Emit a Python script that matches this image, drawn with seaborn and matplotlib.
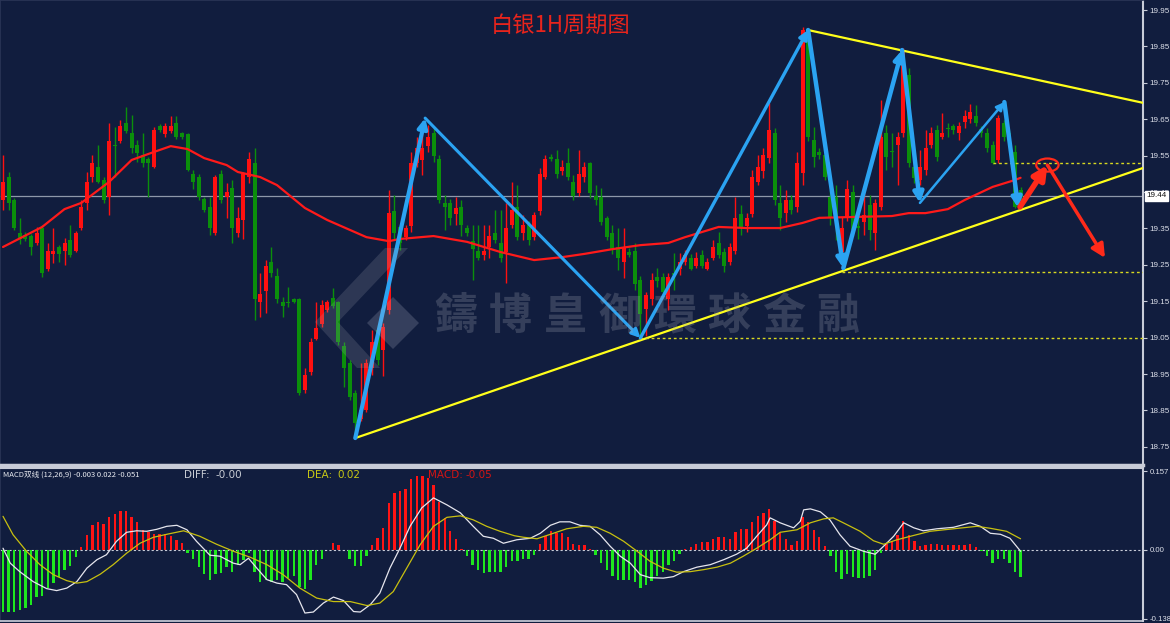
import matplotlib
matplotlib.use("Agg")
import matplotlib.pyplot as plt
import matplotlib.transforms as mtransforms
from matplotlib.patches import Ellipse, Polygon
import seaborn as sns
import pandas as pd
import numpy as np

# ---- silver 1H candles ----
opens = [19.428, 19.491, 19.428, 19.337, 19.332, 19.329, 19.310, 19.351, 19.239, 19.280,
         19.299, 19.288, 19.318, 19.288, 19.351, 19.420, 19.491, 19.519, 19.483, 19.436,
         19.579, 19.590, 19.640, 19.612, 19.579, 19.552, 19.541, 19.519, 19.631, 19.609,
         19.618, 19.640, 19.612, 19.609, 19.500, 19.491, 19.431, 19.409, 19.337, 19.500,
         19.436, 19.461, 19.337, 19.373, 19.491, 19.530, 19.148, 19.178, 19.258, 19.219,
         19.148, 19.148, 19.156, 19.156, 18.906, 18.955, 19.046, 19.088, 19.126, 19.159,
         19.148, 19.027, 18.980, 18.898, 18.826, 18.851, 18.966, 19.071, 19.016, 19.126,
         19.398, 19.354, 19.326, 19.357, 19.530, 19.538, 19.577, 19.612, 19.541, 19.420,
         19.420, 19.390, 19.409, 19.351, 19.315, 19.288, 19.277, 19.299, 19.337, 19.310,
         19.285, 19.359, 19.409, 19.337, 19.359, 19.326, 19.398, 19.491, 19.546, 19.541,
         19.508, 19.530, 19.478, 19.447, 19.491, 19.530, 19.439, 19.436, 19.379, 19.337,
         19.299, 19.258, 19.285, 19.288, 19.208, 19.129, 19.156, 19.217, 19.217, 19.156,
         19.228, 19.239, 19.258, 19.269, 19.247, 19.277, 19.239, 19.269, 19.310, 19.285,
         19.258, 19.288, 19.390, 19.357, 19.390, 19.478, 19.508, 19.544, 19.612, 19.420,
         19.392, 19.428, 19.409, 19.502, 19.890, 19.593, 19.560, 19.552, 19.436, 19.436,
         19.285, 19.381, 19.450, 19.357, 19.368, 19.414, 19.337, 19.409, 19.612, 19.562,
         19.579, 19.612, 19.771, 19.519, 19.483, 19.510, 19.579, 19.620, 19.601, 19.626,
         19.631, 19.612, 19.642, 19.651, 19.659, 19.623, 19.612, 19.579, 19.538, 19.640,
         19.612, 19.560, 19.455]
highs = [19.552, 19.505, 19.433, 19.379, 19.340, 19.335, 19.354, 19.360, 19.310, 19.351,
         19.305, 19.324, 19.359, 19.343, 19.428, 19.505, 19.552, 19.579, 19.490, 19.640,
         19.629, 19.648, 19.683, 19.662, 19.593, 19.612, 19.546, 19.629, 19.637, 19.640,
         19.659, 19.659, 19.615, 19.612, 19.510, 19.500, 19.436, 19.436, 19.496, 19.510,
         19.475, 19.483, 19.409, 19.505, 19.560, 19.571, 19.228, 19.263, 19.299, 19.241,
         19.162, 19.189, 19.159, 19.159, 18.966, 19.049, 19.148, 19.154, 19.154, 19.186,
         19.151, 19.038, 18.988, 18.906, 18.980, 18.990, 19.071, 19.085, 19.090, 19.455,
         19.441, 19.360, 19.360, 19.560, 19.600, 19.612, 19.634, 19.626, 19.552, 19.442,
         19.430, 19.436, 19.428, 19.359, 19.359, 19.359, 19.359, 19.359, 19.400, 19.400,
         19.420, 19.478, 19.470, 19.387, 19.370, 19.395, 19.516, 19.552, 19.555, 19.565,
         19.538, 19.571, 19.497, 19.565, 19.533, 19.533, 19.470, 19.461, 19.385, 19.359,
         19.351, 19.351, 19.296, 19.310, 19.220, 19.175, 19.228, 19.241, 19.228, 19.228,
         19.283, 19.283, 19.290, 19.280, 19.285, 19.290, 19.270, 19.318, 19.340, 19.295,
         19.310, 19.436, 19.415, 19.392, 19.510, 19.552, 19.571, 19.695, 19.626, 19.470,
         19.455, 19.441, 19.560, 19.903, 19.895, 19.629, 19.570, 19.571, 19.455, 19.470,
         19.380, 19.483, 19.470, 19.380, 19.447, 19.442, 19.430, 19.703, 19.634, 19.612,
         19.615, 19.845, 19.790, 19.538, 19.565, 19.620, 19.629, 19.634, 19.667, 19.640,
         19.637, 19.642, 19.675, 19.692, 19.689, 19.630, 19.626, 19.590, 19.662, 19.648,
         19.620, 19.580, 19.464]
lows = [19.400, 19.400, 19.346, 19.307, 19.315, 19.277, 19.305, 19.217, 19.233, 19.255,
        19.258, 19.250, 19.272, 19.285, 19.346, 19.400, 19.478, 19.475, 19.420, 19.387,
        19.491, 19.585, 19.612, 19.557, 19.533, 19.519, 19.436, 19.516, 19.615, 19.601,
        19.612, 19.596, 19.596, 19.508, 19.458, 19.428, 19.395, 19.332, 19.332, 19.420,
        19.379, 19.310, 19.326, 19.321, 19.475, 19.098, 19.107, 19.118, 19.217, 19.145,
        19.107, 19.134, 19.145, 18.893, 18.898, 18.947, 19.044, 19.079, 19.120, 19.131,
        19.030, 18.914, 18.879, 18.774, 18.820, 18.845, 18.947, 18.975, 18.944, 19.115,
        19.320, 19.290, 19.318, 19.340, 19.520, 19.497, 19.560, 19.533, 19.420, 19.346,
        19.359, 19.359, 19.329, 19.330, 19.208, 19.263, 19.263, 19.269, 19.310, 19.258,
        19.200, 19.351, 19.318, 19.318, 19.305, 19.318, 19.387, 19.485, 19.535, 19.489,
        19.497, 19.483, 19.428, 19.439, 19.478, 19.433, 19.414, 19.359, 19.318, 19.280,
        19.236, 19.214, 19.272, 19.181, 19.046, 19.055, 19.140, 19.190, 19.165, 19.126,
        19.181, 19.222, 19.250, 19.236, 19.240, 19.240, 19.235, 19.263, 19.269, 19.230,
        19.250, 19.280, 19.332, 19.340, 19.380, 19.470, 19.489, 19.530, 19.414, 19.346,
        19.368, 19.390, 19.395, 19.470, 19.590, 19.519, 19.540, 19.483, 19.359, 19.318,
        19.241, 19.370, 19.330, 19.320, 19.332, 19.318, 19.291, 19.400, 19.510, 19.519,
        19.470, 19.600, 19.520, 19.475, 19.470, 19.497, 19.570, 19.535, 19.595, 19.600,
        19.610, 19.593, 19.626, 19.640, 19.630, 19.600, 19.560, 19.527, 19.530, 19.590,
        19.580, 19.405, 19.428]
closes = [19.478, 19.420, 19.351, 19.321, 19.321, 19.299, 19.337, 19.228, 19.288, 19.288,
          19.280, 19.310, 19.277, 19.337, 19.409, 19.478, 19.530, 19.478, 19.428, 19.590,
          19.577, 19.631, 19.618, 19.571, 19.557, 19.530, 19.530, 19.620, 19.620, 19.631,
          19.631, 19.601, 19.601, 19.510, 19.478, 19.436, 19.400, 19.351, 19.491, 19.428,
          19.450, 19.351, 19.379, 19.500, 19.541, 19.156, 19.170, 19.247, 19.228, 19.156,
          19.137, 19.145, 19.148, 18.898, 18.947, 19.038, 19.076, 19.140, 19.148, 19.137,
          19.038, 18.966, 18.887, 18.815, 18.851, 18.980, 19.038, 18.988, 19.079, 19.392,
          19.337, 19.310, 19.351, 19.530, 19.571, 19.571, 19.601, 19.549, 19.428, 19.409,
          19.379, 19.406, 19.359, 19.337, 19.293, 19.269, 19.288, 19.329, 19.318, 19.269,
          19.351, 19.400, 19.326, 19.359, 19.318, 19.387, 19.500, 19.541, 19.541, 19.500,
          19.519, 19.491, 19.439, 19.500, 19.519, 19.447, 19.428, 19.368, 19.326, 19.293,
          19.269, 19.296, 19.277, 19.198, 19.115, 19.167, 19.208, 19.206, 19.176, 19.217,
          19.222, 19.258, 19.277, 19.239, 19.269, 19.247, 19.258, 19.299, 19.277, 19.247,
          19.299, 19.379, 19.351, 19.379, 19.491, 19.519, 19.552, 19.620, 19.428, 19.379,
          19.428, 19.400, 19.530, 19.895, 19.601, 19.546, 19.552, 19.491, 19.381, 19.373,
          19.351, 19.458, 19.346, 19.351, 19.387, 19.346, 19.420, 19.601, 19.546, 19.560,
          19.601, 19.840, 19.530, 19.489, 19.519, 19.571, 19.612, 19.546, 19.612, 19.624,
          19.620, 19.631, 19.659, 19.670, 19.640, 19.612, 19.571, 19.530, 19.653, 19.601,
          19.593, 19.409, 19.437]

# red moving average, sampled along its path (candle index, price)
ma_idx = [0, 7, 11, 14, 19, 23, 27, 30, 33, 36, 40, 42, 46, 49, 54, 58, 65, 69, 71,
          77, 83, 89, 95, 100, 104, 109, 114, 119, 122, 125, 128, 133, 137, 139, 143,
          146, 151, 159, 162, 165, 169, 172, 177, 181, 182]
ma_val = [19.299, 19.354, 19.403, 19.420, 19.478, 19.538, 19.560, 19.576, 19.568, 19.543,
          19.524, 19.505, 19.491, 19.469, 19.406, 19.373, 19.326, 19.315, 19.321,
          19.329, 19.313, 19.285, 19.263, 19.271, 19.280, 19.293, 19.304, 19.310, 19.326,
          19.340, 19.354, 19.351, 19.351, 19.351, 19.365, 19.379, 19.381, 19.384, 19.392,
          19.392, 19.403, 19.428, 19.464, 19.483, 19.489]

# MACD (12,26,9)
macd_hist = [-0.124, -0.124, -0.124, -0.120, -0.117, -0.110, -0.094, -0.092, -0.077, -0.066,
             -0.054, -0.040, -0.032, -0.015,
             0.005, 0.030, 0.049, 0.056, 0.052, 0.065, 0.072, 0.077, 0.077, 0.065, 0.056,
             0.040, 0.035, 0.031, 0.031, 0.031, 0.027, 0.020, 0.013,
             -0.007, -0.018, -0.035, -0.049, -0.060, -0.049, -0.047, -0.035, -0.045, -0.030,
             -0.020, -0.007, -0.044, -0.064, -0.060, -0.064, -0.060, -0.064, -0.056, -0.052,
             -0.074, -0.078, -0.060, -0.030, -0.018,
             -0.001, 0.013, 0.010, 0.000,
             -0.018, -0.032, -0.032, -0.013,
             0.009, 0.023, 0.044, 0.094, 0.114, 0.118, 0.122, 0.141, 0.147, 0.147, 0.144,
             0.129, 0.095, 0.064, 0.038, 0.021, 0.002,
             -0.013, -0.030, -0.040, -0.046, -0.045, -0.045, -0.044, -0.035, -0.022, -0.022,
             -0.018, -0.018, -0.011,
             0.011, 0.027, 0.037, 0.033, 0.033, 0.025, 0.011, 0.010, 0.010, 0.001,
             -0.011, -0.027, -0.040, -0.052, -0.060, -0.060, -0.060, -0.064, -0.076, -0.070,
             -0.062, -0.052, -0.045, -0.031, -0.022, -0.009,
             0.002, 0.005, 0.011, 0.015, 0.015, 0.022, 0.025, 0.025, 0.022, 0.035, 0.042,
             0.042, 0.056, 0.067, 0.074, 0.082, 0.058, 0.033, 0.022, 0.009, 0.018, 0.065,
             0.056, 0.040, 0.025, 0.007,
             -0.013, -0.044, -0.058, -0.049, -0.054, -0.057, -0.056, -0.052, -0.040, -0.007,
             0.011, 0.018, 0.029, 0.057, 0.030, 0.018, 0.007, 0.009, 0.011, 0.011, 0.010,
             0.010, 0.010, 0.009, 0.010, 0.011, 0.005,
             -0.003, -0.013, -0.027, -0.018, -0.018, -0.027, -0.045, -0.054]

diff_idx = [0, 1.3, 3.0, 5.4, 7.8, 9.6, 11.4, 13.2, 15.0, 16.8, 18.5, 20.3, 22.1, 23.9,
            25.7, 27.5, 29.3, 31.1, 32.9, 34.6, 37.0, 38.8, 41.2, 42.4, 43.9, 45.4, 47.2,
            49.0, 50.7, 52.5, 54.0, 55.5, 57.3, 59.1, 60.9, 62.7, 63.9, 65.7, 67.4, 69.2,
            71.0, 72.8, 74.9, 77.0, 79.4, 81.8, 84.1, 85.9, 87.7, 89.5, 91.9, 94.3, 96.1,
            97.9, 99.6, 101.4, 103.2, 105.0, 106.8, 108.6, 110.4, 112.2, 114.0, 115.7,
            118.1, 119.9, 121.7, 124.1, 126.5, 128.9, 131.2, 133.0, 134.8, 136.6, 137.2,
            139.0, 141.4, 142.6, 143.2, 144.4, 146.2, 147.9, 149.7, 151.5, 153.9, 156.0,
            157.5, 159.3, 161.1, 162.9, 164.6, 167.0, 170.0, 173.0, 174.8, 176.6, 178.4,
            180.1, 182.0]
diff_val = [0.003, -0.027, -0.044, -0.064, -0.078, -0.082, -0.077, -0.064, -0.037, -0.020,
            -0.010, 0.017, 0.035, 0.038, 0.037, 0.041, 0.047, 0.049, 0.040, 0.017, -0.011,
            -0.013, -0.027, -0.030, -0.017, -0.037, -0.060, -0.067, -0.070, -0.090, -0.127,
            -0.125, -0.107, -0.095, -0.102, -0.124, -0.125, -0.110, -0.087, -0.037, 0.003,
            0.047, 0.084, 0.104, 0.090, 0.074, 0.047, 0.027, 0.023, 0.013, 0.020, 0.023,
            0.033, 0.049, 0.056, 0.056, 0.049, 0.047, 0.030, 0.007, -0.013, -0.027, -0.050,
            -0.056, -0.057, -0.054, -0.044, -0.035, -0.030, -0.020, -0.009, 0.003, 0.027,
            0.050, 0.064, 0.054, 0.044, 0.057, 0.080, 0.082, 0.076, 0.060, 0.030, 0.007,
            -0.003, -0.009, 0.007, 0.027, 0.054, 0.044, 0.038, 0.042, 0.045, 0.054, 0.047,
            0.033, 0.031, 0.023, -0.003]
dea_idx = [0, 1.8, 4.2, 6.6, 9.0, 11.4, 13.2, 15.0, 17.4, 19.7, 22.1, 24.5, 26.9, 29.3,
           32.3, 35.2, 38.2, 41.2, 44.2, 47.2, 50.1, 53.1, 56.1, 59.1, 62.1, 65.1, 67.4,
           69.8, 72.2, 74.6, 77.0, 79.4, 81.8, 84.1, 86.5, 88.9, 91.5, 93.1, 95.5, 97.9,
           100.8, 103.8, 106.2, 108.6, 111.0, 113.4, 115.7, 118.1, 120.5, 122.9, 125.3,
           127.7, 130.1, 132.4, 134.8, 137.2, 139.0, 142.0, 144.4, 146.8, 148.5, 150.3,
           153.3, 155.7, 157.5, 159.9, 162.3, 165.8, 170.0, 174.2, 176.6, 179.5, 182.0]
dea_val = [0.067, 0.030, -0.003, -0.030, -0.050, -0.062, -0.067, -0.064, -0.049, -0.030,
           -0.007, 0.013, 0.025, 0.031, 0.038, 0.027, 0.011, -0.003, -0.015, -0.030,
           -0.050, -0.077, -0.097, -0.104, -0.104, -0.112, -0.107, -0.084, -0.037, 0.010,
           0.047, 0.065, 0.068, 0.060, 0.047, 0.037, 0.028, 0.025, 0.022, 0.031, 0.042,
           0.047, 0.045, 0.033, 0.017, -0.003, -0.023, -0.037, -0.045, -0.044, -0.040,
           -0.035, -0.027, -0.013, 0.003, 0.020, 0.035, 0.040, 0.054, 0.062, 0.064, 0.054,
           0.037, 0.018, 0.011, 0.020, 0.027, 0.037, 0.042, 0.047, 0.043, 0.037, 0.022]

# hand-drawn analysis objects (candle index, price)
support_line = [(63.0, 18.774), (203.9, 19.516)]
resist_line = [(144.0, 19.895), (203.9, 19.695)]
level_start = [177, 150, 114]
level_price = [19.53, 19.23, 19.05]
zigzag = [(63.0, 18.774), (75.5, 19.653), (114.0, 19.049), (144.0, 19.895),
          (150.3, 19.241), (160.8, 19.840), (164.0, 19.420), (179.1, 19.697),
          (181.6, 19.406)]
zigzag_lw = [3.0, 2.2, 2.4, 3.2, 3.2, 3.2, 1.8, 3.2]
forecast = [(181.9, 19.409), (186.8, 19.524), (197.1, 19.269)]
last_price = 19.44
price_ticks = [18.75, 18.85, 18.95, 19.05, 19.15, 19.25, 19.35, 19.45, 19.55, 19.65,
               19.75, 19.85, 19.95]

sns.set_theme(style="dark")
plt.rcParams['font.family'] = ['Noto Sans CJK SC', 'DejaVu Sans']

BG = '#111d3e'
UP = '#ff1010'
DOWN = '#0b8f0b'
AXC = '#c8ccd8'
W, H = 1170, 623

fig = plt.figure(figsize=(11.7, 6.23), dpi=100, facecolor=BG)
ax = fig.add_axes([0, 1 - 465 / H, 1143 / W, 465 / H])
axm = fig.add_axes([0, 1 - 621 / H, 1143 / W, 153 / H])

df = pd.DataFrame({'o': opens, 'h': highs, 'l': lows, 'c': closes})
df['i'] = np.arange(len(df))
up = df['c'] >= df['o']
cols = np.where(up, UP, DOWN)

# candles
ax.vlines(df['i'], df['l'], df['h'], colors=cols, linewidth=1, zorder=2)
body = np.maximum((df['c'] - df['o']).abs(), 0.003)
ax.bar(df['i'], body, bottom=np.minimum(df['o'], df['c']), width=0.72,
       color=cols, linewidth=0, zorder=3)

sns.lineplot(x=ma_idx, y=ma_val, ax=ax, color='#ff1a1a', linewidth=1.6, zorder=4)

# last price line
ax.axhline(last_price, color='#8e98aa', linewidth=0.9, zorder=1)

# trend lines and levels
for line in (support_line, resist_line):
    ax.plot([p[0] for p in line], [p[1] for p in line], color='#ffff1a', linewidth=1.6, zorder=5)
for s, p in zip(level_start, level_price):
    ax.plot([s, 204], [p, p], color='#d8d820', linewidth=1, linestyle=(0, (2, 2)), zorder=5)

# blue zigzag arrows
for (a, b), lw in zip(zip(zigzag[:-1], zigzag[1:]), zigzag_lw):
    ax.annotate('', xy=b, xytext=a,
                arrowprops=dict(arrowstyle='-|>', color='#2ba3f2', lw=lw,
                                mutation_scale=8 + 2 * lw, shrinkA=0, shrinkB=0),
                zorder=6)

# red forecast
ax.annotate('', xy=forecast[1], xytext=forecast[0],
            arrowprops=dict(arrowstyle='-|>', color='#ff2a1a', lw=4, mutation_scale=20,
                            shrinkA=0, shrinkB=0), zorder=6)
ax.annotate('', xy=forecast[2], xytext=forecast[1],
            arrowprops=dict(arrowstyle='-|>', color='#ff2a1a', lw=2.5, mutation_scale=20,
                            shrinkA=0, shrinkB=0), zorder=6)
ax.add_patch(Ellipse(forecast[1], width=4.0, height=0.036, fill=False,
                     edgecolor='#ff2a1a', linewidth=1.6, zorder=6))

ax.set_xlim(-0.54, 203.9)
ax.set_ylim(18.700, 19.9775)
ax.set_facecolor(BG)
ax.yaxis.tick_right()
ax.set_yticks(price_ticks)
ax.set_yticklabels([f"{t:.2f}" for t in price_ticks], family='Liberation Sans')
ax.tick_params(axis='y', colors=AXC, labelsize=5.8, length=3, width=0.8, pad=1.5,
               labelcolor='#dde0ea')
ax.set_xticks([])
ax.set_xlabel('')
ax.set_ylabel('')
for side in ['top', 'left']:
    ax.spines[side].set_visible(True)
    ax.spines[side].set_color('#2a3556')
ax.spines['right'].set_color(AXC)
ax.spines['right'].set_linewidth(1.5)
ax.spines['bottom'].set_color(AXC)
ax.spines['bottom'].set_linewidth(2.5)
ax.grid(False)

trans = mtransforms.blended_transform_factory(ax.transAxes, ax.transData)
ax.text(1.003, last_price, f"{last_price:.2f}", transform=trans, fontsize=5.8,
        color='#101010', va='center', ha='left', family='Liberation Sans',
        bbox=dict(boxstyle='square,pad=0.2', fc='white', ec='white'), zorder=10,
        clip_on=False)

# title
fig.text(561 / W, 1 - 25 / H, '白银1H周期图', color='#e8241c', fontsize=16,
         ha='center', va='center')

# watermark
wm = '鑄博皇御環球金融'
for j, ch in enumerate(wm):
    fig.text((456 + 54.6 * j) / W, 1 - 316 / H, ch, fontsize=31, color='#a0a4b0',
             alpha=0.26, ha='center', va='center',
             family=['Noto Sans CJK TC', 'DejaVu Sans'], fontweight='bold', zorder=20)


def px(points):
    return [(x / W, 1 - y / H) for x, y in points]


fig.patches.append(Polygon(px([(315, 322), (385, 248), (408, 248), (338, 322), (380, 368), (357, 368)]),
                           closed=True, transform=fig.transFigure, fc='#a0a4b0', alpha=0.2,
                           ec='none', zorder=20))
fig.patches.append(Polygon(px([(367, 323), (393, 297), (419, 323), (393, 349)]),
                           closed=True, transform=fig.transFigure, fc='#b8bccc', alpha=0.22,
                           ec='none', zorder=20))

# ---- MACD panel ----
hist_cols = np.where(np.array(macd_hist) >= 0, '#ff1414', '#1ee81e')
axm.bar(np.arange(len(macd_hist)), macd_hist, width=0.42, color=hist_cols, linewidth=0)
sns.lineplot(x=diff_idx, y=diff_val, ax=axm, color='#e6e6ee', linewidth=0.9)
sns.lineplot(x=dea_idx, y=dea_val, ax=axm, color='#c8c010', linewidth=0.9)
axm.axhline(0, color='#c8ccd8', linewidth=0.8, linestyle=(0, (2, 2)), zorder=0)

axm.set_xlim(-0.54, 203.9)
axm.set_ylim(-0.143, 0.164)
axm.set_facecolor(BG)
axm.yaxis.tick_right()
axm.set_yticks([-0.138, 0.0, 0.157])
axm.set_yticklabels(['-0.138', '0.00', '0.157'], family='Liberation Sans')
axm.tick_params(axis='y', colors=AXC, labelsize=5.6, length=3, width=0.8, pad=1.5,
                labelcolor='#dde0ea')
axm.set_xticks(np.arange(8, 204, 8))
axm.set_xticklabels([])
axm.tick_params(axis='x', direction='in', length=3, colors=AXC, width=0.8)
axm.set_xlabel('')
axm.set_ylabel('')
axm.grid(False)
for side in ['top', 'right', 'bottom', 'left']:
    axm.spines[side].set_visible(True)
    axm.spines[side].set_color(AXC)
axm.spines['left'].set_color('#2a3556')
axm.spines['right'].set_linewidth(1.5)
axm.spines['top'].set_linewidth(1.5)

ty = 1 - 475 / H
fig.text(3 / W, ty, 'MACD双线 (12,26,9) -0.003 0.022 -0.051', fontsize=5.5,
         color='#e8eaf0', va='center')
fig.text(184 / W, ty, 'DIFF:', fontsize=7.5, color='#c8ccd4', va='center', family='DejaVu Sans')
fig.text(215 / W, ty, '-0.00', fontsize=7.5, color='#c8ccd4', va='center', family='DejaVu Sans')
fig.text(307 / W, ty, 'DEA:', fontsize=7.5, color='#c8c814', va='center', family='DejaVu Sans')
fig.text(337 / W, ty, '0.02', fontsize=7.5, color='#c8c814', va='center', family='DejaVu Sans')
fig.text(428 / W, ty, 'MACD:', fontsize=7.5, color='#d41414', va='center', family='DejaVu Sans')
fig.text(465 / W, ty, '-0.05', fontsize=7.5, color='#d41414', va='center', family='DejaVu Sans')

fig.savefig('out.png', dpi=100, facecolor=BG)
